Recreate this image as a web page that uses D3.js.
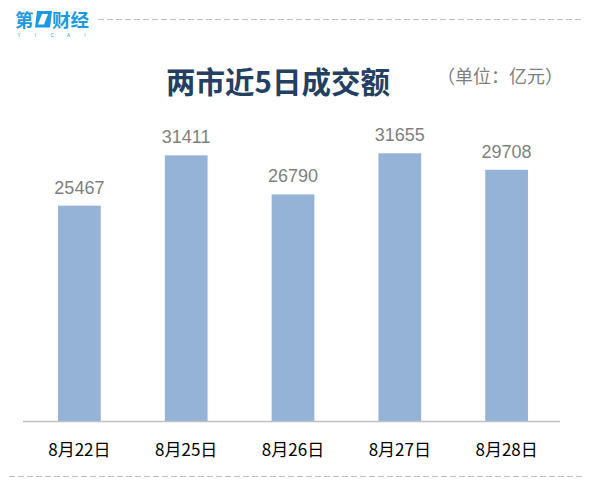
<!DOCTYPE html>
<html><head><meta charset="utf-8">
<script src="https://cdn.jsdelivr.net/npm/d3@7"></script>
<style>body{margin:0;background:#fff;}svg{display:block;}</style>
</head><body>
<svg id="c" width="598" height="488"></svg>
<script>
const categories = ["8月22日","8月25日","8月26日","8月27日","8月28日"];
const values = [25467,31411,26790,31655,29708];
const title = "两市近5日成交额";
const unit = "（单位：亿元）";
const logoLetters = ["Y","I","C","A","I"];

const svg = d3.select("#c");
const font = "'Liberation Sans','Noto Sans CJK SC',sans-serif";
const cjk = "'Noto Sans CJK SC',sans-serif";

// dashed separators
svg.append("line").attr("x1",98).attr("x2",581).attr("y1",19.5).attr("y2",19.5)
  .attr("stroke","#c4c4c4").attr("stroke-width",1.2).attr("stroke-dasharray","6,3");
svg.append("line").attr("x1",9).attr("x2",583).attr("y1",476.5).attr("y2",476.5)
  .attr("stroke","#c4c4c4").attr("stroke-width",1.2).attr("stroke-dasharray","6,3");

// logo
const logo = svg.append("g").attr("fill","#1b9ae0");
logo.append("text").attr("x",15).attr("y",27).attr("font-family",cjk)
  .attr("font-weight","bold").attr("font-size",18.5).text("第");
logo.append("path").attr("d","M37,11 L52,11 L50,27.5 L35,27.5 Z").attr("fill","#1b9ae0");
logo.append("path").attr("d","M42,14 L48,14 L44,24.5 L38,24.5 Z").attr("fill","#fff");
logo.append("text").attr("x",52).attr("y",27).attr("font-family",cjk)
  .attr("font-weight","bold").attr("font-size",18.5).text("财经");
logoLetters.forEach((ch,i)=>{
  logo.append("text").attr("x",19+i*16.5).attr("y",36.5).attr("font-family",font)
    .attr("font-size",4.5).attr("text-anchor","middle").text(ch);
});

// title
svg.append("text").attr("x",278).attr("y",93).attr("text-anchor","middle")
  .attr("font-family",cjk).attr("font-weight","bold")
  .attr("font-size",29.5).attr("fill","#243f62").text(title);
svg.append("text").attr("x",500).attr("y",83).attr("text-anchor","middle")
  .attr("font-family",cjk)
  .attr("font-size",18).attr("fill","#7f7f7f").text(unit);

// scales
const x = d3.scaleBand().domain(categories).range([26,560]).paddingInner(0.6).paddingOuter(0.3);
const y = d3.scaleLinear().domain([0,35000]).range([421,125]);

svg.append("g").selectAll("rect").data(values).join("rect")
  .attr("x",(d,i)=>x(categories[i])).attr("width",x.bandwidth())
  .attr("y",d=>y(d)).attr("height",d=>y(0)-y(d)).attr("fill","#95b3d7");

svg.append("g").selectAll("text").data(values).join("text")
  .attr("x",(d,i)=>x(categories[i])+x.bandwidth()/2).attr("y",d=>y(d)-12)
  .attr("text-anchor","middle").attr("font-family",font).attr("font-size",18)
  .attr("fill","#7f7f7f").text(d=>d);

// axis
const ax = svg.append("g").attr("transform","translate(0,421)")
  .call(d3.axisBottom(x).tickSize(0).tickPadding(23));
ax.select(".domain").attr("stroke","#bfbfbf").attr("stroke-width",1.5).attr("d","M23,0.5H560");
ax.selectAll("text").attr("font-family",cjk).attr("font-size",17)
  .attr("fill","#000");
</script>
</body></html>
